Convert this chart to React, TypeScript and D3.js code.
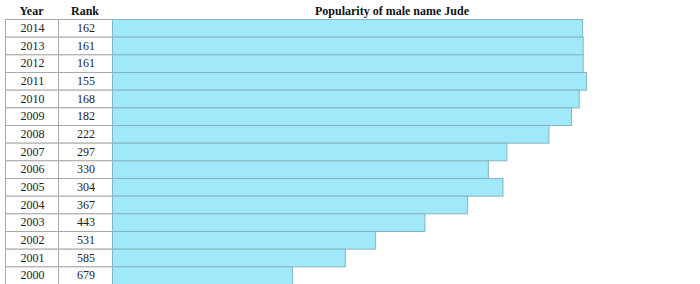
import React from "react";
import * as d3 from "d3";

const years = [2014, 2013, 2012, 2011, 2010, 2009, 2008, 2007, 2006, 2005, 2004, 2003, 2002, 2001, 2000];
const ranks = [162, 161, 161, 155, 168, 182, 222, 297, 330, 304, 367, 443, 531, 585, 679];
const headers = ["Year", "Rank", "Popularity of male name Jude"];

export default function App() {
  const W = 700, H = 284;
  const left = 5, col1 = 58, col2 = 112;
  const y = d3.scaleBand<number>().domain(years).range([19, 284]).paddingInner(0);
  const len = d3.scaleLinear().domain([1000, 0]).range([0, 561]);
  const font = "'Liberation Serif', 'Times New Roman', serif";
  const border = "#a9a9a9";
  const data = years.map((yr, i) => ({ yr, rank: ranks[i] }));
  return (
    <svg width={W} height={H} style={{ position: "absolute", left: 0, top: 0, background: "#fff" }}>
      <g fontFamily={font} fontSize={12} fontWeight="bold" fill="#111">
        <text x={(left + col1) / 2} y={15} textAnchor="middle">{headers[0]}</text>
        <text x={(col1 + col2) / 2} y={15} textAnchor="middle">{headers[1]}</text>
        <text x={392} y={15} textAnchor="middle">{headers[2]}</text>
      </g>
      {data.map((d) => {
        const y0 = y(d.yr)!;
        const h = y.bandwidth();
        return (
          <g key={d.yr}>
            <rect x={left + 0.5} y={y0 + 0.5} width={col1 - left} height={h} fill="#fff" stroke={border} />
            <rect x={col1 + 0.5} y={y0 + 0.5} width={col2 - col1} height={h} fill="#fff" stroke={border} />
            <rect x={col2 + 0.5} y={y0 + 0.5} width={len(d.rank)} height={h} fill="#9fe9fb" stroke="#88b3c2" />
            <text x={(left + col1) / 2 + 1} y={y0 + h / 2 + 4} textAnchor="middle" fontFamily={font} fontSize={12} fill="#222">{d.yr}</text>
            <text x={(col1 + col2) / 2 + 1} y={y0 + h / 2 + 4} textAnchor="middle" fontFamily={font} fontSize={12} fill="#222">{d.rank}</text>
          </g>
        );
      })}
    </svg>
  );
}
